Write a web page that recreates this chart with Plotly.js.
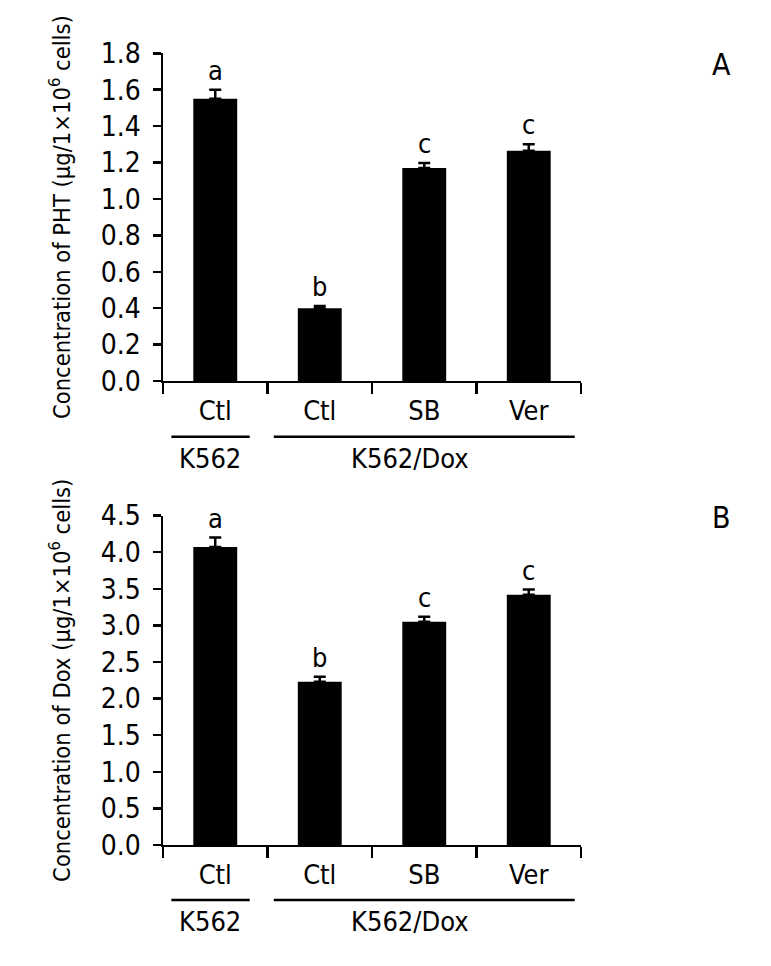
<!DOCTYPE html>
<html>
<head>
<meta charset="utf-8">
<script src="https://cdn.plot.ly/plotly-3.0.1.min.js"></script>
<style>html,body{margin:0;padding:0;background:#fff;}#chart{width:771px;height:966px;}</style>
</head>
<body>
<div id="chart"></div>
<script>
// ---- data ----
const categories = ["Ctl", "Ctl\u200b", "SB", "Ver"];
const tickLabels = ["Ctl", "Ctl", "SB", "Ver"];
const phtValues = [1.55, 0.40, 1.17, 1.265];
const phtErrors = [0.05, 0.012, 0.028, 0.035];
const phtLetters = ["a", "b", "c", "c"];
const doxValues = [4.07, 2.23, 3.05, 3.42];
const doxErrors = [0.13, 0.07, 0.07, 0.07];
const doxLetters = ["a", "b", "c", "c"];
const groups = ["K562", "K562/Dox"];
const groupLineX = [[-0.42, 0.33], [0.56, 3.44]];
const groupLabelX = [-0.05, 1.86];
const phtTicks = [0, 0.2, 0.4, 0.6, 0.8, 1.0, 1.2, 1.4, 1.6, 1.8];
const doxTicks = [0, 0.5, 1.0, 1.5, 2.0, 2.5, 3.0, 3.5, 4.0, 4.5];

const FONT = "'DejaVu Sans Condensed', 'Liberation Sans Narrow', sans-serif";

function barTrace(vals, errs, xa, ya) {
  return {
    type: "bar", x: categories, y: vals, xaxis: xa, yaxis: ya,
    marker: {color: "#000", line: {width: 0}},
    error_y: {type: "data", symmetric: false, array: errs, arrayminus: errs.map(() => 0),
              color: "#000", thickness: 2.5, width: 6},
    hoverinfo: "none", showlegend: false
  };
}

function xaxisDef(anchor) {
  return {
    anchor: anchor, type: "category", categoryorder: "array", categoryarray: categories,
    tickmode: "array", tickvals: categories, ticktext: tickLabels,
    tickson: "boundaries", ticks: "outside", ticklen: 11, tickwidth: 2.5, tickcolor: "#000",
    showline: true, linewidth: 2.5, linecolor: "#000", showgrid: false, zeroline: false,
    range: [-0.5, 3.5], fixedrange: true,
    tickfont: {family: FONT, size: 27, color: "#000"}, ticklabelstandoff: 4
  };
}

function yaxisDef(anchor, domain, range, ticks, title) {
  return {
    anchor: anchor, domain: domain, range: range,
    tickmode: "array", tickvals: ticks, ticktext: ticks.map(v => v.toFixed(1)),
    ticks: "outside", ticklen: 8, tickwidth: 2.5, tickcolor: "#000",
    showline: true, linewidth: 2.5, linecolor: "#000", showgrid: false, zeroline: false,
    tickfont: {family: FONT, size: 28, color: "#000"}, ticklabelstandoff: 6,
    title: {text: title, font: {family: FONT, size: 23.5, color: "#000"}, standoff: 24},
    fixedrange: true
  };
}

const annotations = [];
function letterAnns(vals, errs, letters, xa, ya) {
  vals.forEach((v, i) => {
    annotations.push({
      xref: xa, yref: ya, x: categories[i], y: v + errs[i], text: letters[i],
      showarrow: false, yanchor: "bottom", yshift: 2,
      font: {family: FONT, size: 27, color: "#000"}
    });
  });
}
letterAnns(phtValues, phtErrors, phtLetters, "x", "y");
letterAnns(doxValues, doxErrors, doxLetters, "x2", "y2");

const shapes = [];
const panelGroupY = [{line: 0.548, label: 0.525, xa: "x"}, {line: 0.0683, label: 0.046, xa: "x2"}];
panelGroupY.forEach(p => {
  groups.forEach((g, gi) => {
    shapes.push({type: "line", xref: p.xa, yref: "paper",
      x0: groupLineX[gi][0], x1: groupLineX[gi][1], y0: p.line, y1: p.line,
      line: {color: "#000", width: 2.5}});
    annotations.push({xref: p.xa, yref: "paper", x: groupLabelX[gi], y: p.label,
      text: g, showarrow: false, yanchor: "middle", xanchor: "center",
      font: {family: FONT, size: 27, color: "#000"}});
  });
});

annotations.push({xref: "paper", yref: "paper", x: 1.363, y: 0.953, text: "A", showarrow: false,
  font: {family: FONT, size: 30, color: "#000"}});
annotations.push({xref: "paper", yref: "paper", x: 1.363, y: 0.4638, text: "B", showarrow: false,
  font: {family: FONT, size: 30, color: "#000"}});

const layout = {
  width: 771, height: 966,
  margin: {l: 163, r: 190, t: 0, b: 0},
  paper_bgcolor: "#fff", plot_bgcolor: "#fff",
  bargap: 0.58,
  xaxis: xaxisDef("y"),
  yaxis: yaxisDef("x", [0.6056, 0.9448], [0, 1.8], phtTicks,
    "Concentration of PHT (μg/1×10<sup>6</sup> cells)"),
  xaxis2: xaxisDef("y2"),
  yaxis2: yaxisDef("x2", [0.1253, 0.4662], [0, 4.5], doxTicks,
    "Concentration of Dox (μg/1×10<sup>6</sup> cells)"),
  annotations: annotations,
  shapes: shapes
};

Plotly.newPlot("chart", [barTrace(phtValues, phtErrors, "x", "y"), barTrace(doxValues, doxErrors, "x2", "y2")],
  layout, {staticPlot: true, displayModeBar: false});
</script>
</body>
</html>
